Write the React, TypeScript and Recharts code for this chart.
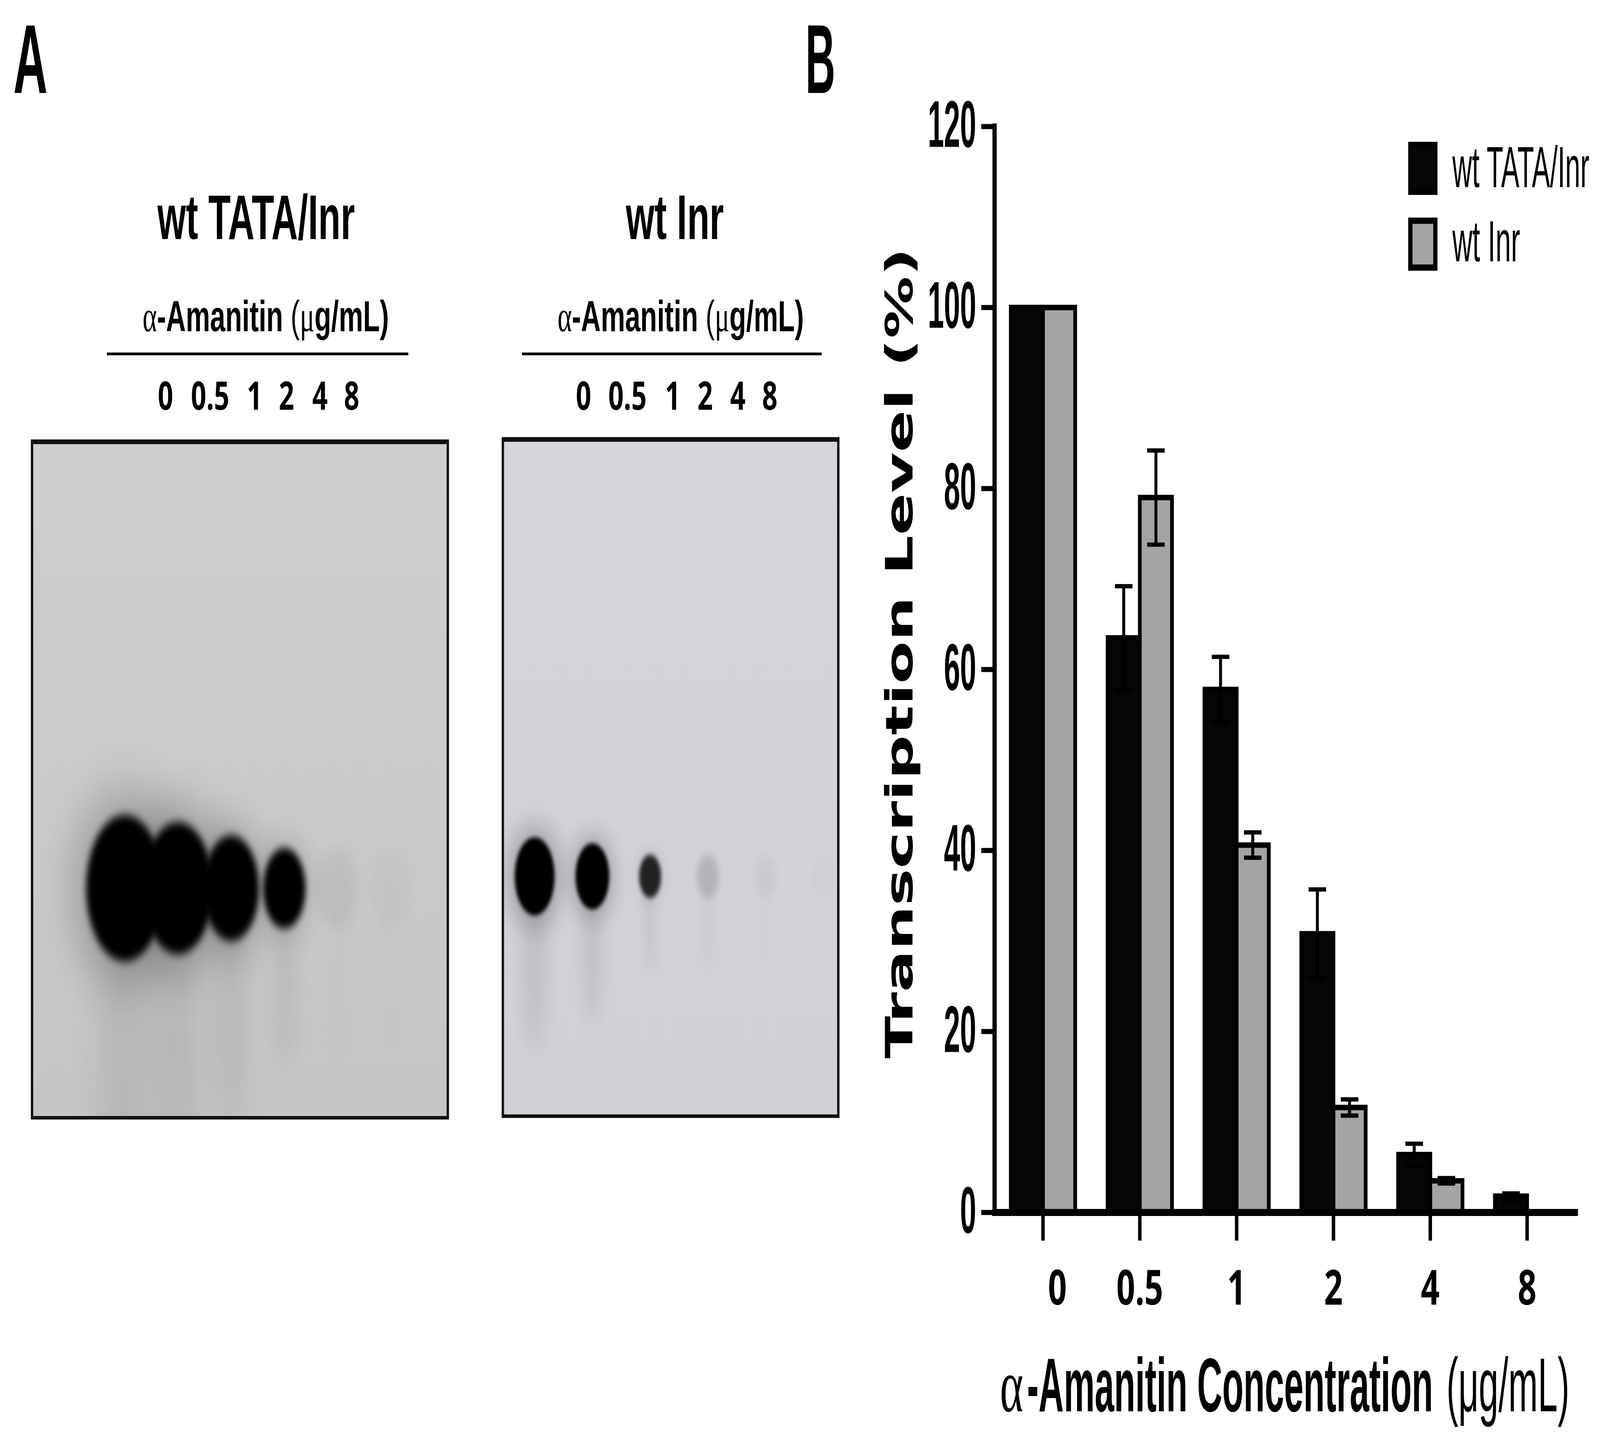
import React, { useLayoutEffect, useState } from "react";
import {
  BarChart,
  Bar,
  XAxis,
  YAxis,
  ErrorBar,
  Legend,
  ScatterChart,
  Scatter,
} from "recharts";

// ---- panel B : transcription level vs alpha-amanitin ----
const concentrations = ["0", "0.5", "1", "2", "4", "8"];
const seriesNames = ["wt TATA/Inr", "wt Inr"];
const tataInrLevel = [100, 63.5, 57.8, 30.8, 6.4, 1.8];
const tataInrSem = [0, 5.7, 3.6, 4.9, 1.2, 0.3];
const inrLevel = [100, 79.0, 40.6, 11.6, 3.5, null];
const inrSem = [0, 5.2, 1.4, 0.9, 0.3, 0];
const yTicks = [0, 20, 40, 60, 80, 100, 120];

// ---- panel A : relative band signal per lane (same lanes as above) ----
const laneLabels = concentrations;
const tataInrBand = [1.0, 0.95, 0.85, 0.7, 0.08, 0.03];
const inrBand = [1.0, 0.92, 0.55, 0.2, 0.05, 0.02];
const tataInrRf = 0.661;
const inrRf = 0.646;

const barData = concentrations.map((c, i) => ({
  conc: c,
  tataInr: tataInrLevel[i],
  tataInrSem: tataInrSem[i],
  inr: inrLevel[i],
  inrSem: inrSem[i],
}));

const PAGE_W = 6015;
const PAGE_H = 3666;

const NARROW = "'Liberation Sans Narrow', 'Liberation Sans', Arial, sans-serif";
const SERIF = "'Liberation Serif', 'DejaVu Serif', serif";
const LANE_FONT = "'Open Sans', 'DejaVu Sans', sans-serif";

// layout of the gel annotations (page px)
const laneLabelX = [
  [622, 790, 957, 1077, 1203, 1322],
  [2194, 2359, 2529, 2651, 2774, 2894],
];
const legendTextLen: Record<string, number> = { "wt TATA/Inr": 515, "wt Inr": 255 };

const YTick = (props: any) => {
  const { x, y, payload } = props;
  const s = String(payload.value);
  const len = s.length * 60.7;
  return (
    <text
      x={x - len}
      y={y + 52}
      fontFamily={NARROW}
      fontWeight={700}
      fontSize={169}
      textLength={len}
      lengthAdjust="spacingAndGlyphs"
      fill="#000"
    >
      {s}
    </text>
  );
};

const XTick = (props: any) => {
  const { x, y, payload, index } = props;
  return (
    <text
      x={x + (index === 0 ? 54 : 0)}
      y={y + 164}
      textAnchor="middle"
      fontFamily={LANE_FONT}
      fontWeight={700}
      fontSize={123}
      fill="#000"
    >
      {payload.value}
    </text>
  );
};

const YTitle = () => {
  const cx = 230;
  const cy = 1672;
  const len = 2076;
  return (
    <text
      x={cx - len / 2}
      y={cy}
      transform={`rotate(-90 ${cx} ${cy})`}
      fontFamily="'DejaVu Sans', sans-serif"
      fontWeight={700}
      fontSize={141}
      textLength={len}
      lengthAdjust="spacingAndGlyphs"
      fill="#000"
    >
      Transcription Level (%)
    </text>
  );
};

const XTitle = () => (
  <g fill="#000">
    <text x={559} y={3613} fontFamily={SERIF} fontSize={195} textLength={88} lengthAdjust="spacingAndGlyphs">
      α
    </text>
    <text
      x={661}
      y={3613}
      fontFamily={NARROW}
      fontWeight={700}
      fontSize={195}
      textLength={1526}
      lengthAdjust="spacingAndGlyphs"
    >
      -Amanitin Concentration
    </text>
    <text x={2238} y={3613} fontFamily={NARROW} fontSize={195} textLength={462} lengthAdjust="spacingAndGlyphs">
      (μg/mL)
    </text>
  </g>
);

const LegendBox = (props: any) => {
  const payload = [...(props.payload || [])].sort(
    (a: any, b: any) => seriesNames.indexOf(a.value) - seriesNames.indexOf(b.value)
  );
  return (
    <svg width={700} height={340} style={{ display: "block", overflow: "visible" }}>
      {payload.map((p: any, i: number) => (
        <g key={p.value}>
          <rect x={8} y={8 + i * 194} width={94} height={120} fill={p.color} stroke="#000" strokeWidth={16} />
          <text
            x={166}
            y={116 + i * 190}
            fontFamily={NARROW}
            fontSize={148}
            textLength={legendTextLen[p.value]}
            lengthAdjust="spacingAndGlyphs"
            fill="#000"
          >
            {p.value}
          </text>
        </g>
      ))}
    </svg>
  );
};

const GelSpot = (props: any) => {
  const { cx, cy, payload, gelId, spotW, spotH } = props;
  const s = payload.signal;
  const f = Math.max(s * s, 0.55);
  const rx = (spotW / 2) * f;
  const ry = (spotH / 2) * f;
  const core = s >= 0.5 ? Math.min(1, s * 1.5) : s * 0.6;
  const k = `${gelId}-${payload.lane}`;
  return (
    <g>
      <defs>
        <filter id={`${k}-core`} x="-100%" y="-100%" width="300%" height="300%">
          <feGaussianBlur stdDeviation={rx * (0.08 + 0.2 * (1 - s))} />
        </filter>
        <filter id={`${k}-halo`} x="-100%" y="-100%" width="300%" height="300%">
          <feGaussianBlur stdDeviation={rx * 0.45} />
        </filter>
      </defs>
      <ellipse cx={cx} cy={cy + ry * 1.9} rx={rx * 0.55} ry={ry * 2.6} fill="#000" opacity={0.09 * s} filter={`url(#${k}-halo)`} />
      <ellipse cx={cx} cy={cy} rx={rx * 1.4} ry={ry * 1.35} fill="#000" opacity={0.2 * s * s} filter={`url(#${k}-halo)`} />
      <ellipse cx={cx} cy={cy} rx={rx} ry={ry} fill="#000" opacity={core} filter={`url(#${k}-core)`} />
    </g>
  );
};

const Gel = (props: any) => {
  const { signal, rf, domain, width, height, spotW, spotH, gelId } = props;
  const data = laneLabels.map((_, i) => ({ lane: i, rf, signal: signal[i] }));
  return (
    <ScatterChart width={width} height={height} margin={{ top: 0, right: 0, bottom: 0, left: 0 }}>
      <XAxis type="number" dataKey="lane" domain={domain} hide allowDataOverflow />
      <YAxis type="number" dataKey="rf" domain={[0, 1]} reversed hide width={0} allowDataOverflow />
      <Scatter
        data={data}
        isAnimationActive={false}
        shape={(p: any) => <GelSpot {...p} gelId={gelId} spotW={spotW} spotH={spotH} />}
      />
    </ScatterChart>
  );
};

const gelFrame = {
  position: "absolute" as const,
  boxSizing: "border-box" as const,
  border: "9px solid #111",
  borderTopWidth: 12,
};

const amanitinLabel = (x: number) => (
  <text x={x} y={848} fontSize={112} textLength={926} lengthAdjust="spacingAndGlyphs" fill="#000">
    <tspan fontFamily={SERIF}>α</tspan>
    <tspan fontFamily={NARROW} fontWeight={700}>-Amanitin </tspan>
    <tspan fontFamily={NARROW}>(</tspan>
    <tspan fontFamily={SERIF}>μ</tspan>
    <tspan fontFamily={NARROW} fontWeight={700}>g/mL)</tspan>
  </text>
);

export default function App() {
  // fit the fixed-size figure to whatever the viewport really is
  const [fit, setFit] = useState({ sx: 1, sy: 1 });
  useLayoutEffect(() => {
    document.documentElement.style.overflow = "hidden";
    document.body.style.overflow = "hidden";
    document.body.style.margin = "0";
    const measure = () =>
      setFit({ sx: window.innerWidth / PAGE_W, sy: window.innerHeight / PAGE_H });
    measure();
    window.addEventListener("resize", measure);
    return () => window.removeEventListener("resize", measure);
  }, []);

  return (
    <div
      style={{
        position: "absolute",
        left: 0,
        top: 0,
        width: PAGE_W,
        height: PAGE_H,
        background: "#fff",
        overflow: "hidden",
        transformOrigin: "0 0",
        transform: `scale(${fit.sx}, ${fit.sy})`,
      }}
    >
      <svg width={PAGE_W} height={PAGE_H} style={{ position: "absolute", left: 0, top: 0 }}>
        <text x={50} y={238} fontFamily={NARROW} fontWeight={700} fontSize={250} textLength={129} lengthAdjust="spacingAndGlyphs">
          A
        </text>
        <text x={3028} y={238} fontFamily={NARROW} fontWeight={700} fontSize={250} textLength={112} lengthAdjust="spacingAndGlyphs">
          B
        </text>
        <text x={592} y={612} fontFamily={NARROW} fontWeight={700} fontSize={161} textLength={742} lengthAdjust="spacingAndGlyphs">
          wt TATA/Inr
        </text>
        <text x={2353} y={612} fontFamily={NARROW} fontWeight={700} fontSize={161} textLength={368} lengthAdjust="spacingAndGlyphs">
          wt Inr
        </text>
        {amanitinLabel(536)}
        {amanitinLabel(2096)}
        <line x1={402} x2={1535} y1={906} y2={906} stroke="#000" strokeWidth={7} />
        <line x1={1962} x2={3089} y1={906} y2={906} stroke="#000" strokeWidth={7} />
        {laneLabelX.map((xs, g) =>
          xs.map((x, i) => (
            <text key={`${g}-${i}`} x={x} y={1049} textAnchor="middle" fontFamily={LANE_FONT} fontWeight={700} fontSize={101}>
              {laneLabels[i]}
            </text>
          ))
        )}
      </svg>

      <div
        style={{
          ...gelFrame,
          left: 116,
          top: 1125,
          width: 1572,
          height: 1741,
          background: "linear-gradient(to bottom, #cecfd0 0%, #c9cacb 55%, #c4c5c7 100%)",
        }}
      >
        <Gel
          gelId="g1"
          signal={tataInrBand}
          rf={tataInrRf}
          domain={[-1.72, 6.05]}
          width={1554}
          height={1720}
          spotW={290}
          spotH={375}
        />
      </div>

      <div
        style={{
          ...gelFrame,
          left: 1886,
          top: 1119,
          width: 1270,
          height: 1743,
          background: "linear-gradient(to bottom, #d2d7db 0%, #cfd4d8 60%, #cdd2d6 100%)",
        }}
      >
        <Gel
          gelId="g2"
          signal={inrBand}
          rf={inrRf}
          domain={[-0.53, 5.24]}
          width={1252}
          height={1722}
          spotW={150}
          spotH={200}
        />
      </div>

      <div style={{ position: "absolute", left: 3200, top: 0 }}>
        <BarChart
          width={2815}
          height={3666}
          data={barData}
          margin={{ top: 324, right: 92, left: 239, bottom: 162 }}
          barCategoryGap={61}
          barGap={0}
        >
          <XAxis
            dataKey="conc"
            interval={0}
            height={400}
            axisLine={{ stroke: "#000", strokeWidth: 18, strokeLinecap: "square" }}
            tickLine={{ stroke: "#000", strokeWidth: 13 }}
            tickSize={72}
            tickMargin={0}
            tick={<XTick />}
            label={<XTitle />}
          />
          <YAxis
            domain={[0, 120]}
            ticks={yTicks}
            interval={0}
            width={300}
            allowDataOverflow
            axisLine={{ stroke: "#000", strokeWidth: 16, strokeLinecap: "square" }}
            tickLine={{ stroke: "#000", strokeWidth: 13 }}
            tickSize={50}
            tickMargin={19}
            tick={<YTick />}
            label={<YTitle />}
          />
          <Legend
            layout="horizontal"
            verticalAlign="middle"
            align="center"
            width={700}
            height={340}
            wrapperStyle={{ left: 2094, top: 363 }}
            content={<LegendBox />}
          />
          <Bar dataKey="tataInr" name={seriesNames[0]} fill="#050505" stroke="#000" strokeWidth={14} isAnimationActive={false}>
            <ErrorBar dataKey="tataInrSem" direction="y" width={33} stroke="#000" strokeWidth={11} isAnimationActive={false} />
          </Bar>
          <Bar dataKey="inr" name={seriesNames[1]} fill="#a4a4a7" stroke="#000" strokeWidth={14} isAnimationActive={false}>
            <ErrorBar dataKey="inrSem" direction="y" width={33} stroke="#000" strokeWidth={11} isAnimationActive={false} />
          </Bar>
        </BarChart>
      </div>
    </div>
  );
}
